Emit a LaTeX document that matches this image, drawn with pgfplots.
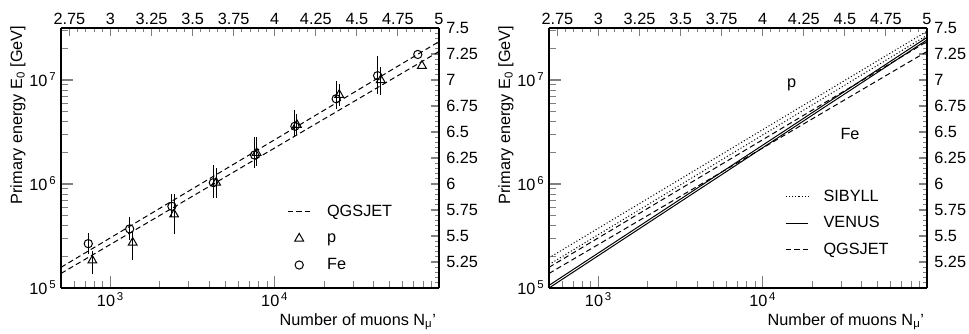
\documentclass[border=0pt]{standalone}
\usepackage{fontspec}
\setmainfont{Liberation Sans}
\usepackage{pgfplots}
\usepackage{pgfplotstable}
\pgfplotsset{compat=1.18}

% reconstructed primary energy vs. muon number, iron primaries
\pgfplotstableread{
N      E       ep      em
733    2.67e5  0.72e5  0.53e5
1309   3.70e5  1.09e5  0.82e5
2366   6.10e5  1.84e5  1.31e5
4230   1.03e6  0.48e6  0.29e6
7540   1.90e6  0.92e6  0.49e6
13270  3.59e6  1.54e6  0.77e6
23660  6.60e6  3.17e6  1.35e6
42300  1.10e7  0.60e7  0.36e7
74300  1.76e7  0       0
}\fedata

% proton primaries
\pgfplotstableread{
N      E       ep      em
776    1.84e5  0.45e5  0.49e5
1366   2.73e5  0.82e5  0.89e5
2440   5.10e5  2.84e5  1.79e5
4400   1.03e6  0.38e6  0.29e6
7760   1.99e6  0.83e6  0.51e6
13650  3.70e6  0.98e6  0.75e6
24700  7.20e6  1.90e6  1.60e6
44200  1.00e7  0.32e7  0.29e7
78700  1.37e7  0       0
}\pdata

\newcommand{\lblfont}{\fontsize{12.2}{14}\selectfont}

\tikzset{
  modelline/.style={black, line width=0.75pt},
  dashedline/.style={modelline, dash pattern=on 4pt off 2.5pt},
  dottedline/.style={modelline, dash pattern=on 0.8pt off 1.6pt},
}

% secondary scale: log10 of muon number (top) and of energy (right)
\newcommand{\secaxis}[1]{%
\begin{axis}[scale only axis, width=283.5pt, height=195pt,
    at={(#1,33.75pt)}, anchor=south west,
    xmin=2.699, xmax=5, ymin=5, ymax=7.5,
    axis x line*=top, axis y line*=right,
    tick align=inside,
    axis line style={line width=0.9pt},
    major tick style={line width=0.8pt},
    minor tick style={line width=0.7pt},
    major tick length=6pt, minor tick length=3pt,
    xtick={2.75,3,3.25,3.5,3.75,4,4.25,4.5,4.75,5},
    ytick={5.25,5.5,5.75,6,6.25,6.5,6.75,7,7.25,7.5},
    minor xtick={2.7,2.75,...,5},
    minor ytick={5.05,5.1,...,7.5},
    tick label style={font=\lblfont},
    xticklabel style={yshift=-1pt},
    yticklabel style={xshift=2pt},
    /pgf/number format/assume math mode=true]
\end{axis}}

\begin{document}
\begin{tikzpicture}
\useasboundingbox (0,0) rectangle (726.75pt,249.75pt);

% ---------------- left panel: measured points ----------------
\secaxis{45.75pt}
\begin{axis}[scale only axis, width=283.5pt, height=195pt,
    at={(45.75pt,33.75pt)}, anchor=south west,
    xmode=log, ymode=log,
    xmin=500, xmax=1e5, ymin=1e5, ymax=3.1623e7,
    axis x line*=bottom, axis y line*=left,
    tick align=inside,
    axis line style={line width=0.9pt},
    major tick style={line width=0.8pt},
    minor tick style={line width=0.7pt},
    major tick length=9pt, minor tick length=5pt,
    xtick={1000,10000},
    xticklabels={10\textsuperscript{\,3},10\textsuperscript{\,4}},
    ytick={1e5,1e6,1e7},
    yticklabels={10\textsuperscript{\,5},10\textsuperscript{\,6},10\textsuperscript{\,7}},
    minor xtick={600,700,800,900,2000,3000,4000,5000,6000,7000,8000,9000,20000,30000,40000,50000,60000,70000,80000,90000},
    minor ytick={2e5,3e5,4e5,5e5,6e5,7e5,8e5,9e5,2e6,3e6,4e6,5e6,6e6,7e6,8e6,9e6,2e7,3e7},
    tick label style={font=\lblfont},
    xlabel={Number of muons N\textsubscript{μ}'},
    ylabel={Primary energy E\textsubscript{0} [GeV]},
    label style={font=\lblfont},
    xlabel style={at={(axis description cs:1,0)}, anchor=base east, yshift=-28pt, xshift=-2pt, inner sep=0pt},
    ylabel style={at={(axis description cs:-0.103,1.01)}, anchor=base east, inner sep=0pt},
    legend cell align=left,
    legend style={draw=none, fill=none, at={(axis description cs:0.598,0.323)}, anchor=north west,
      font=\lblfont, row sep=8.4pt, inner sep=0pt,
      nodes={inner sep=0pt, text height=9pt, text depth=2.5pt},
      /tikz/every odd column/.append style={column sep=12pt}},
]
  \addplot[dashedline] coordinates {(500,1.58e5) (1e5,2.34e7)};
  \addlegendentry{QGSJET}
  \addplot[dashedline, forget plot] coordinates {(500,1.38e5) (1e5,1.88e7)};
  \addplot[black, only marks, mark=triangle, mark size=3.8pt, mark options={line width=0.75pt},
    error bars/.cd, y dir=both, y explicit, error mark=none,
    error bar style={line width=0.8pt, black}]
    table[x=N, y=E, y error plus=ep, y error minus=em] {\pdata};
  \addlegendentry{p}
  \addplot[black, only marks, mark=o, mark size=3.1pt, mark options={line width=0.75pt},
    error bars/.cd, y dir=both, y explicit, error mark=none,
    error bar style={line width=0.8pt, black}]
    table[x=N, y=E, y error plus=ep, y error minus=em] {\fedata};
  \addlegendentry{Fe}
\end{axis}

% ---------------- right panel: model predictions ----------------
\secaxis{411.75pt}
\begin{axis}[scale only axis, width=283.5pt, height=195pt,
    at={(411.75pt,33.75pt)}, anchor=south west,
    xmode=log, ymode=log,
    xmin=500, xmax=1e5, ymin=1e5, ymax=3.1623e7,
    axis x line*=bottom, axis y line*=left,
    tick align=inside,
    axis line style={line width=0.9pt},
    major tick style={line width=0.8pt},
    minor tick style={line width=0.7pt},
    major tick length=9pt, minor tick length=5pt,
    xtick={1000,10000},
    xticklabels={10\textsuperscript{\,3},10\textsuperscript{\,4}},
    ytick={1e5,1e6,1e7},
    yticklabels={10\textsuperscript{\,5},10\textsuperscript{\,6},10\textsuperscript{\,7}},
    minor xtick={600,700,800,900,2000,3000,4000,5000,6000,7000,8000,9000,20000,30000,40000,50000,60000,70000,80000,90000},
    minor ytick={2e5,3e5,4e5,5e5,6e5,7e5,8e5,9e5,2e6,3e6,4e6,5e6,6e6,7e6,8e6,9e6,2e7,3e7},
    tick label style={font=\lblfont},
    xlabel={Number of muons N\textsubscript{μ}'},
    ylabel={Primary energy E\textsubscript{0} [GeV]},
    label style={font=\lblfont},
    xlabel style={at={(axis description cs:1,0)}, anchor=base east, yshift=-28pt, xshift=-2pt, inner sep=0pt},
    ylabel style={at={(axis description cs:-0.103,1.01)}, anchor=base east, inner sep=0pt},
    legend cell align=left,
    legend style={draw=none, fill=none, at={(axis description cs:0.624,0.381)}, anchor=north west,
      font=\lblfont, row sep=8.4pt, inner sep=0pt,
      nodes={inner sep=0pt, text height=9pt, text depth=2.5pt},
      /tikz/every odd column/.append style={column sep=11pt}},
]
  \addplot[dottedline] coordinates {(500,1.95e5) (1e5,2.95e7)};
  \addlegendentry{SIBYLL}
  \addplot[dottedline, forget plot] coordinates {(500,1.68e5) (1e5,2.69e7)};
  \addplot[modelline] coordinates {(500,1.06e5) (1e5,2.57e7)};
  \addlegendentry{VENUS}
  \addplot[modelline, forget plot] coordinates {(500,1.00e5) (1e5,2.43e7)};
  \addplot[dashedline] coordinates {(500,1.58e5) (1e5,2.34e7)};
  \addlegendentry{QGSJET}
  \addplot[dashedline, forget plot] coordinates {(500,1.38e5) (1e5,1.88e7)};
  \node[font=\lblfont] at (axis cs:15000,9.0e6) {p};
  \node[font=\lblfont] at (axis cs:34000,3.0e6) {Fe};
\end{axis}
\end{tikzpicture}
\end{document}
